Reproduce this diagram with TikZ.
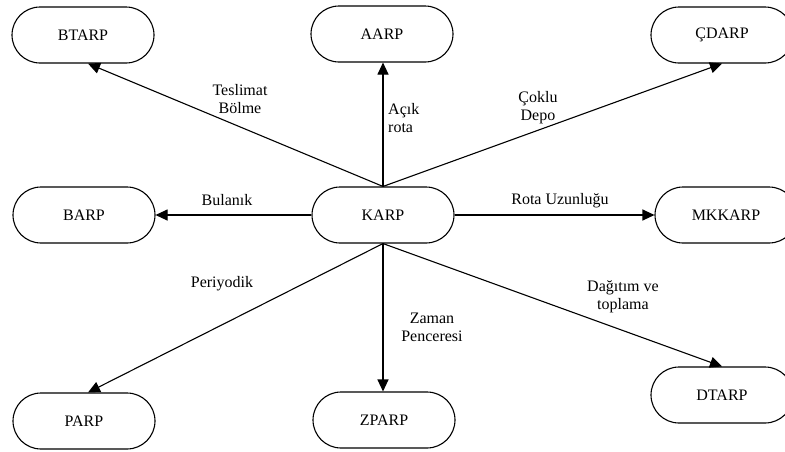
\documentclass[tikz,border=0pt]{standalone}
\usepackage{fontspec}
\setmainfont{Liberation Serif}
\usetikzlibrary{arrows.meta}
\begin{document}
\begin{tikzpicture}[x=1pt,y=-1pt,
  problem/.style={draw,line width=1.1pt,rectangle,rounded corners=28pt,
    minimum width=142pt,minimum height=56pt,inner sep=0pt,
    font=\fontsize{16}{19}\selectfont},
  link/.style={line width=1.1pt,-{Triangle[length=12pt,width=11pt]}},
  lbl/.style={align=center,inner sep=0pt,font=\fontsize{16}{18}\selectfont}]
\useasboundingbox (0,0) rectangle (785,451);
\clip (0,0) rectangle (785,451);
% problem variants
\node[problem] (karp) at (383,215) {KARP};
\node[problem] (btarp) at (83,35) {BTARP};
\node[problem] (aarp) at (382,34) {AARP};
\node[problem] (cdarp) at (722,35) {ÇDARP};
\node[problem] (barp) at (84,215) {BARP};
\node[problem] (mkkarp) at (726,215) {MKKARP};
\node[problem] (parp) at (84,421) {PARP};
\node[problem] (zparp) at (384,420) {ZPARP};
\node[problem] (dtarp) at (722,395) {DTARP};
% connectors
\draw[link] (karp.north) -- ([xshift=5pt]btarp.south);
\draw[link] (karp.north) -- (karp.north |- aarp.south);
\draw[link] (karp.north) -- (cdarp.south);
\draw[link] (karp.west) -- (barp.east);
\draw[link] (karp.east) -- (mkkarp.west);
\draw[link] (karp.south) -- ([xshift=4pt]parp.north);
\draw[link] (karp.south) -- (karp.south |- zparp.north);
\draw[link] (karp.south) -- (dtarp.north);
% labels
\node[lbl] (l1) at (240,99) {Teslimat\\Bölme};
\node[lbl,align=left,anchor=west] (l2) at (388,118) {Açık\\rota};
\node[lbl] (l3) at (538,108) {Çoklu\\Depo};
\node[lbl] (l4) at (227,200) {Bulanık};
\node[lbl] (l5) at (560,201) {Rota Uzunluğu};
\node[lbl] (l6) at (222,284) {Periyodik};
\node[lbl] (l7) at (432,327) {Zaman\\Penceresi};
\node[lbl] (l8) at (623,297) {Dağıtım ve\\toplama};
\end{tikzpicture}
\end{document}
